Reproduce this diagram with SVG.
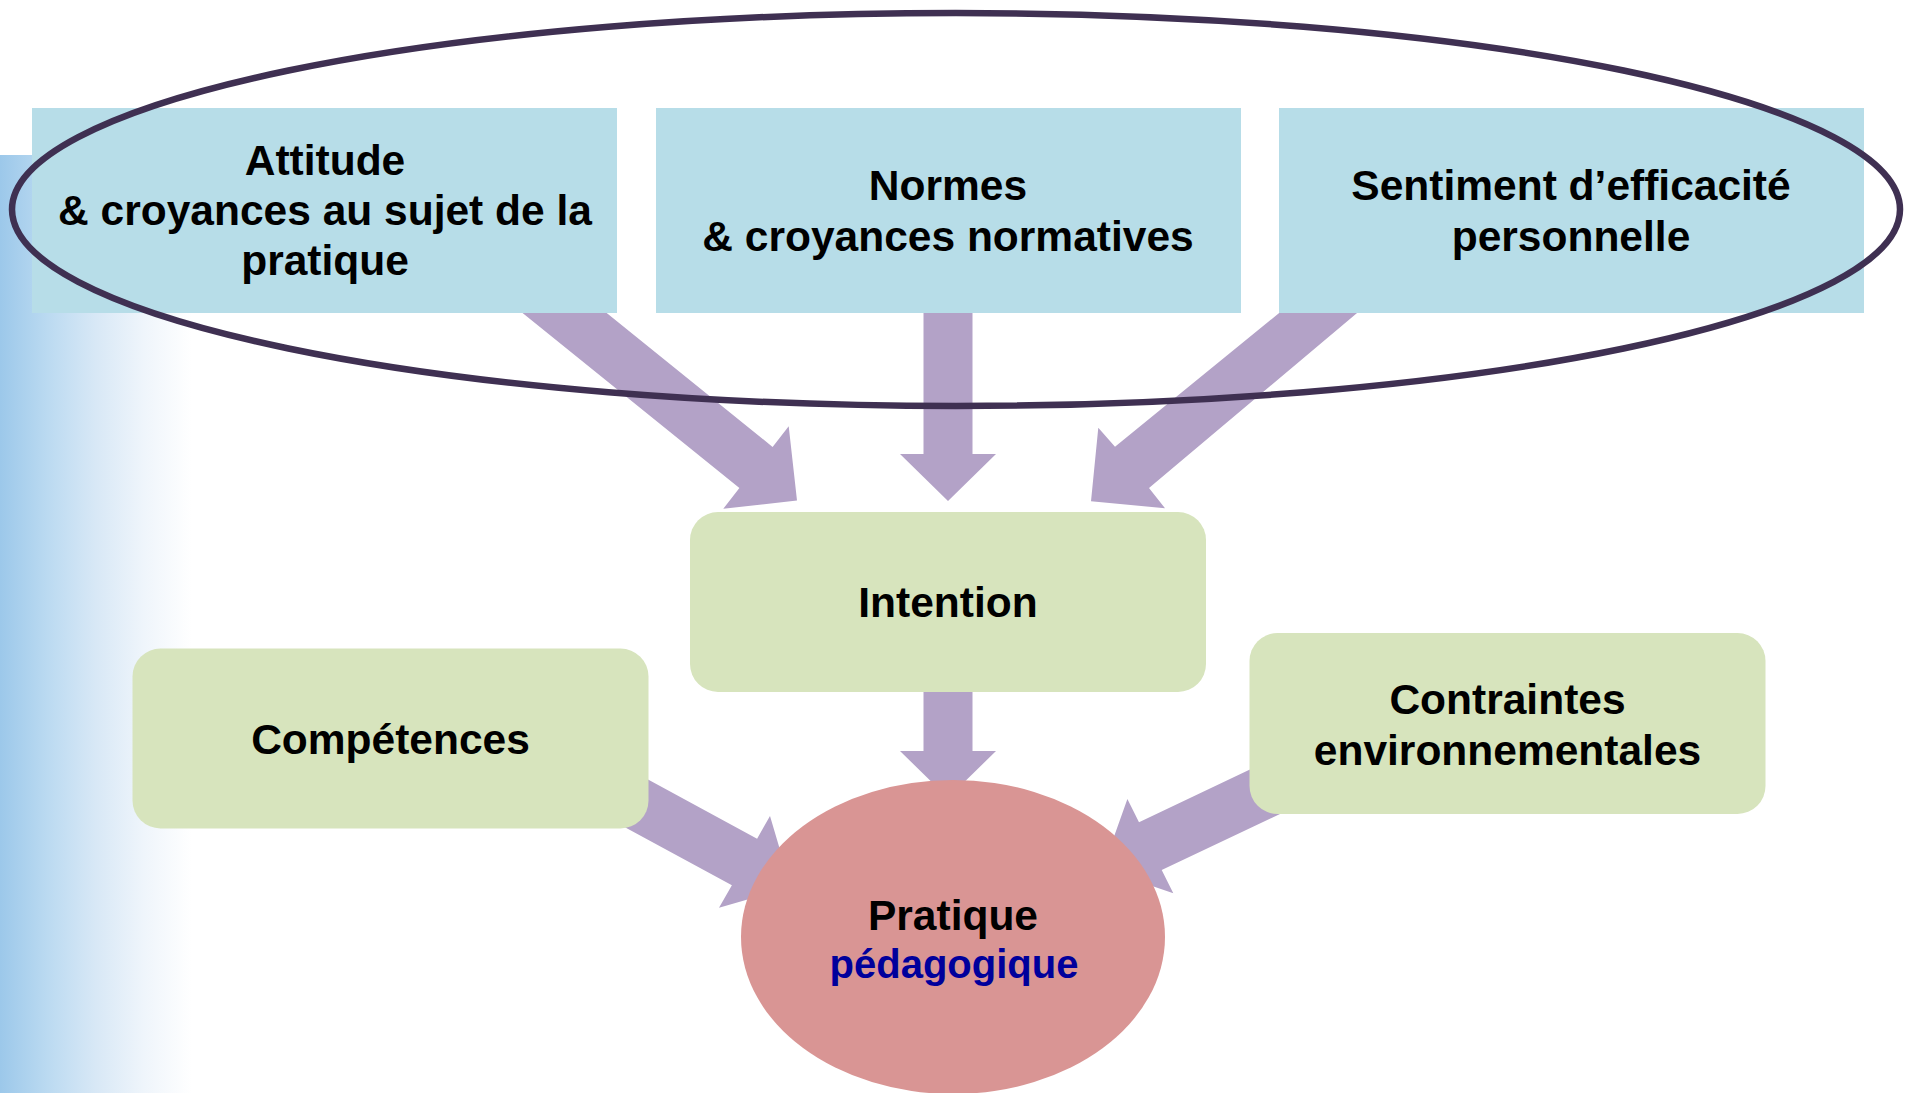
<svg xmlns="http://www.w3.org/2000/svg" width="1908" height="1093" viewBox="0 0 1908 1093">
  <defs>
    <linearGradient id="sideGrad" x1="0" y1="0" x2="1" y2="0">
      <stop offset="0" stop-color="#9CC8EA"/>
      <stop offset="0.25" stop-color="#BBDAF1"/>
      <stop offset="0.5" stop-color="#D8E8F6"/>
      <stop offset="0.75" stop-color="#EFF5FB"/>
      <stop offset="1" stop-color="#FFFFFF"/>
    </linearGradient>
    <style>
      .txt { font-family: "Liberation Sans", Arial, sans-serif; font-weight: bold; font-size: 42.5px; fill: #000000; text-anchor: middle; }
      .blue { fill: #00009C; font-size: 40px; }
      .topbox { fill: #B7DDE8; }
      .greenbox { fill: #D7E4BD; }
      .arrow { fill: #B3A2C7; }
    </style>
  </defs>
  <rect x="0" y="0" width="1908" height="1093" fill="#FFFFFF"/>
  <rect x="0" y="155" width="192" height="938" fill="url(#sideGrad)"/>

  <g id="connectors">
    <polygon class="arrow" points="506.4,300 590.6,300 772.6,446.9 788.7,426.3 797,500.5 723.3,508.7 739.4,488.1"/>
    <polygon class="arrow" points="923.5,300 972.5,300 972.5,454 996,454 948,501 900,454 923.5,454"/>
    <polygon class="arrow" points="1295,300 1372.5,300 1149,488 1165,508.3 1091,501.3 1098.3,427.7 1115,446.7"/>
    <polygon class="arrow" points="923.5,680 972.5,680 972.5,751 996,751 948,798 900,751 923.5,751"/>
    <polygon class="arrow" points="600,753.4 600,813.7 731.9,885.3 719,907.7 791,887 770,816 757.1,838.7"/>
    <polygon class="arrow" points="1320,736.2 1320,794.9 1161.7,870.1 1173.3,893.3 1102.5,868.9 1127.4,799 1139,822.2"/>
  </g>

  <g id="node-attitude">
    <rect class="topbox" x="32" y="108" width="585" height="205"/>
    <text class="txt" x="325" y="175">Attitude</text>
    <text class="txt" x="325" y="225">&amp; croyances au sujet de la</text>
    <text class="txt" x="325" y="275">pratique</text>
  </g>
  <g id="node-normes">
    <rect class="topbox" x="656" y="108" width="585" height="205"/>
    <text class="txt" x="948" y="200">Normes</text>
    <text class="txt" x="948" y="251">&amp; croyances normatives</text>
  </g>
  <g id="node-sentiment">
    <rect class="topbox" x="1279" y="108" width="585" height="205"/>
    <text class="txt" x="1571" y="200">Sentiment d’efficacité</text>
    <text class="txt" x="1571" y="251">personnelle</text>
  </g>

  <g id="group-outline">
    <ellipse cx="956" cy="209.5" rx="944" ry="196.5" fill="none" stroke="#3F3052" stroke-width="6.5"/>
  </g>

  <g id="node-intention">
    <rect class="greenbox" x="690" y="512" width="516" height="180" rx="28" ry="28"/>
    <text class="txt" x="948" y="617">Intention</text>
  </g>
  <g id="node-competences">
    <rect class="greenbox" x="132.5" y="648.5" width="516" height="180" rx="28" ry="28"/>
    <text class="txt" x="390.5" y="754">Compétences</text>
  </g>
  <g id="node-contraintes">
    <rect class="greenbox" x="1249.5" y="633" width="516" height="181" rx="28" ry="28"/>
    <text class="txt" x="1507.5" y="714">Contraintes</text>
    <text class="txt" x="1507.5" y="765">environnementales</text>
  </g>
  <g id="node-pratique">
    <ellipse cx="953" cy="937" rx="212" ry="157" fill="#D99594"/>
    <text class="txt" x="953" y="930">Pratique</text>
    <text class="txt blue" x="954" y="978">pédagogique</text>
  </g>
</svg>
